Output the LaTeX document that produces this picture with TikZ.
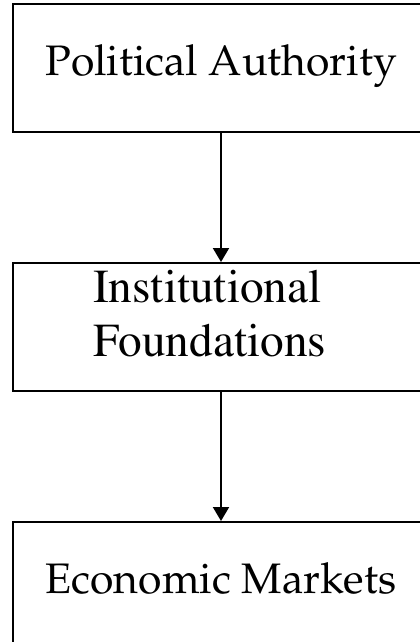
\documentclass[tikz,border=0pt]{standalone}
\usepackage[T1]{fontenc}
\usepackage{tikz}
\usetikzlibrary{positioning}
\usetikzlibrary{arrows.meta}
\newcommand{\palfont}{\fontfamily{ppl}\fontsize{32}{38}\selectfont}
\newcommand{\timesfont}{\fontfamily{ptm}\fontsize{35.5}{40.5}\selectfont}
\tikzset{
	box/.style={
		rectangle,
		draw,
		line width=1.5pt,
		minimum width=312pt,
		minimum height=96pt,
		inner sep=0pt
	},
	link/.style={
		line width=1.5pt,
		-{Triangle[length=10.5pt,width=12pt]}
	}
}

\begin{document}
\begin{tikzpicture}[node distance=96.75pt]
		\useasboundingbox (0,0) rectangle (315pt,-481.5pt);
		\clip (0,0) rectangle (315pt,-481.5pt);
		\draw (165.75pt,-51pt) node[box, font=\palfont, text height=23pt, text depth=12pt](Authority){Political Authority};
		\draw node[box, below=of Authority, font=\timesfont, text width=192pt, align=left, text depth=61pt](Institutions){Institutional\\ Foundations};
		\draw node[box, below=of Institutions, font=\palfont, text height=23pt, text depth=12pt](Markets){Economic Markets};
		
		\draw [link] (Authority) -- (Institutions);
		\draw [link] (Institutions) -- (Markets);
	\end{tikzpicture}
\end{document}
